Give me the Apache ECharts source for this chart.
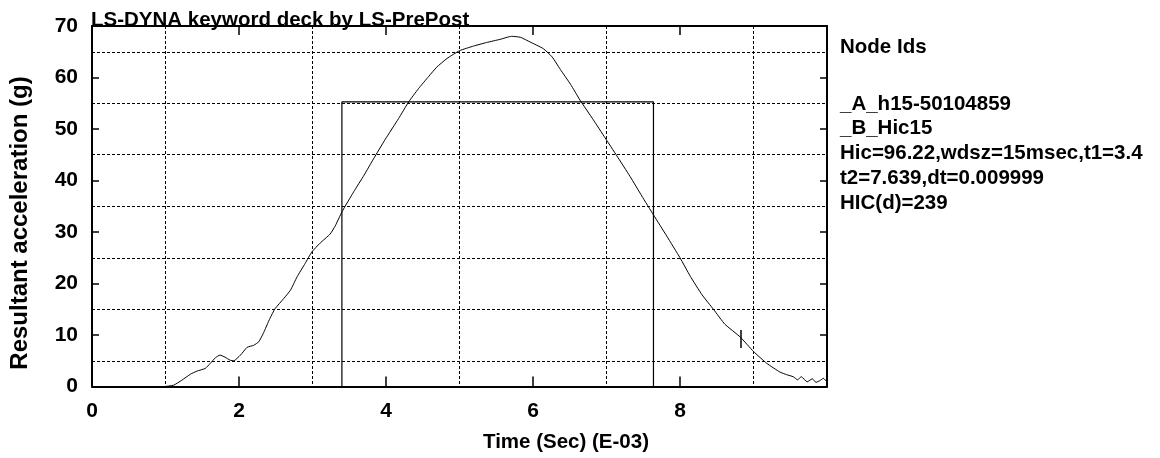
<!DOCTYPE html>
<html>
<head>
<meta charset="utf-8">
<script src="https://cdn.jsdelivr.net/npm/echarts@6/dist/echarts.min.js"></script>
<style>
  html, body { margin: 0; padding: 0; background: #fff; }
  #chart { width: 1160px; height: 458px; }
</style>
</head>
<body>
<div id="chart"></div>
<script>
// curve A: h15-50104859, time in E-03 sec, resultant acceleration in g
var timeA = [0, 0.98, 1.11, 1.22, 1.34, 1.43, 1.54, 1.61, 1.68, 1.74, 1.81, 1.88, 1.93, 2.02, 2.11, 2.20,
  2.27, 2.33, 2.42, 2.49, 2.61, 2.70, 2.79, 2.90, 2.99, 3.10, 3.24, 3.31, 3.40, 3.56, 3.70, 3.83, 3.99,
  4.17, 4.31, 4.44, 4.58, 4.69, 4.83, 5.00, 5.19, 5.37, 5.55, 5.71, 5.83, 5.96, 6.14, 6.26, 6.37, 6.51,
  6.64, 6.82, 6.98, 7.14, 7.32, 7.48, 7.64, 7.82, 8.00, 8.14, 8.30, 8.46, 8.61, 8.82, 9.00, 9.18, 9.36,
  9.45, 9.54, 9.60, 9.65, 9.73, 9.80, 9.85, 9.91, 9.95, 10.0];
var accelA = [0, 0, 0.25, 1.2, 2.4, 3.0, 3.5, 4.5, 5.6, 6.1, 5.7, 5.1, 5.0, 6.1, 7.6, 8.0,
  8.7, 10.3, 13.2, 15.1, 17.1, 18.7, 21.3, 23.9, 26.1, 27.8, 29.6, 31.2, 33.9, 37.8, 41.0, 44.2, 48.0,
  52.0, 55.3, 57.8, 60.2, 62.0, 63.7, 65.2, 66.1, 66.8, 67.4, 68.0, 67.8, 66.9, 65.6, 64.0, 61.6, 58.7,
  55.6, 51.8, 48.3, 44.8, 40.8, 37.0, 33.3, 29.2, 25.0, 21.4, 17.8, 14.9, 12.1, 9.6, 6.8, 4.5, 2.8,
  2.3, 1.9, 1.3, 1.9, 0.9, 1.5, 0.8, 1.2, 1.6, 0.9];

// curve B: Hic15 window
var timeB = [3.4, 3.4, 7.639, 7.639];
var accelB = [0, 55.25, 55.25, 0];

var legendLines = [
  'Node Ids',
  '_A_h15-50104859',
  '_B_Hic15',
  'Hic=96.22,wdsz=15msec,t1=3.4',
  't2=7.639,dt=0.009999',
  'HIC(d)=239'
];
var legendY = [47, 104, 128, 153, 178, 203];

var font = '"Liberation Sans", Arial, sans-serif';

function pairs(xs, ys) {
  return xs.map(function (x, i) { return [x, ys[i]]; });
}

var chart = echarts.init(document.getElementById('chart'));

var gridLine = { show: true, lineStyle: { color: '#000', width: 1, type: [3, 2] } };
var label = { color: '#000', fontWeight: 'bold', fontSize: 21, fontFamily: font };

var graphics = [
  {
    type: 'text', left: 91, top: 10, z: 10,
    style: { text: 'LS-DYNA keyword deck by LS-PrePost', fill: '#000', font: 'bold 20.5px ' + font }
  },
  {
    type: 'text', x: 566, y: 442,
    style: { text: 'Time (Sec) (E-03)', fill: '#000', font: 'bold 20.5px ' + font, align: 'center', verticalAlign: 'middle' }
  },
  {
    type: 'text', x: 20, y: 223, rotation: Math.PI / 2,
    style: { text: 'Resultant acceleration (g)', fill: '#000', font: 'bold 24px ' + font, align: 'center', verticalAlign: 'middle' }
  }
];
legendLines.forEach(function (txt, i) {
  graphics.push({
    type: 'text', x: 840, y: legendY[i],
    style: { text: txt, fill: '#000', font: 'bold 20.5px ' + font, verticalAlign: 'middle' }
  });
});

chart.setOption({
  animation: false,
  backgroundColor: '#fff',
  grid: { left: 92, right: 333, top: 26, bottom: 71.5 },
  xAxis: [{
    type: 'value', min: 0, max: 10, interval: 2,
    axisLine: { show: true, onZero: false, lineStyle: { color: '#000', width: 2 } },
    axisTick: { show: true, inside: true, length: 10, lineStyle: { color: '#000', width: 1.5 } },
    axisLabel: Object.assign({ margin: 14, formatter: function (v) { return v === 10 ? '' : v; } }, label),
    splitLine: { show: false },
    minorTick: { show: false, splitNumber: 2 },
    minorSplitLine: gridLine
  }, {
    type: 'value', position: 'top', min: 0, max: 10, interval: 2,
    axisLine: { show: true, onZero: false, lineStyle: { color: '#000', width: 2 } },
    axisTick: { show: true, inside: true, length: 9, lineStyle: { color: '#000', width: 1.5 } },
    axisLabel: { show: false },
    splitLine: { show: false }
  }],
  yAxis: [{
    type: 'value', min: 0, max: 70, interval: 10,
    axisLine: { show: true, onZero: false, lineStyle: { color: '#000', width: 2 } },
    axisTick: { show: true, inside: true, length: 7, lineStyle: { color: '#000', width: 1.5 } },
    axisLabel: Object.assign({ margin: 14 }, label),
    splitLine: { show: false },
    minorTick: { show: false, splitNumber: 2 },
    minorSplitLine: gridLine
  }, {
    type: 'value', position: 'right', min: 0, max: 70, interval: 10,
    axisLine: { show: true, onZero: false, lineStyle: { color: '#000', width: 2 } },
    axisTick: { show: true, inside: true, length: 7, lineStyle: { color: '#000', width: 1.5 } },
    axisLabel: { show: false },
    splitLine: { show: false }
  }],
  series: [{
    name: 'A', type: 'line', data: pairs(timeA, accelA),
    showSymbol: false, smooth: 0.15,
    lineStyle: { color: '#000', width: 1 },
    markPoint: {
      symbol: 'rect', symbolSize: [1.5, 18], silent: true,
      itemStyle: { color: '#000' }, label: { show: false },
      data: [{ coord: [8.83, 9.2] }]
    }
  }, {
    name: 'B', type: 'line', data: pairs(timeB, accelB),
    showSymbol: false,
    lineStyle: { color: '#000', width: 1.2 }
  }],
  graphic: graphics
});
</script>
</body>
</html>
